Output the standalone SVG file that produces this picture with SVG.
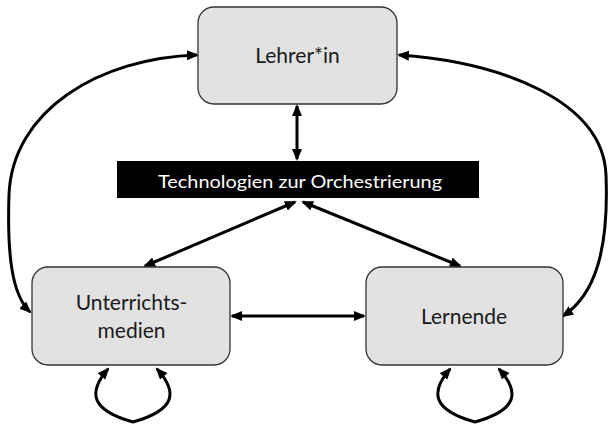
<svg xmlns="http://www.w3.org/2000/svg" width="609" height="426" viewBox="0 0 609 426">
<style>
.box{fill:#e2e2e2;stroke:#333;stroke-width:1.3}
.lbl{font-family:Lato,"Open Sans",sans-serif;font-size:21px;fill:#1a1a1a;text-anchor:middle}
.tech{font-family:Lato,"Open Sans",sans-serif;font-size:18px;fill:#fff;text-anchor:middle}
.con{fill:none;stroke:#000;stroke-width:3;marker-start:url(#ah);marker-end:url(#ah)}
</style>
<defs>
<marker id="ah" markerUnits="userSpaceOnUse" markerWidth="13" markerHeight="11" refX="10" refY="5" orient="auto-start-reverse" viewBox="0 0 13 11">
<path d="M0,0 L12,5 L0,10 z" fill="#000"/>
</marker>
</defs>
<rect width="609" height="426" fill="#fff"/>
<g id="connectors">
<path class="con" d="M297,106 L297,159"/>
<path class="con" d="M295,202 L145,266"/>
<path class="con" d="M303,202 L460,266"/>
<path class="con" d="M232,316 L364,316"/>
<path class="con" d="M197,55 C100,58 12,110 9,195 C7,255 12,295 30,312"/>
<path class="con" d="M399,55 C500,62 603,100 606,175 C609,250 595,295 563,316"/>
<path class="con" d="M108,369 C88,392 90,410 133,422 C176,410 178,392 157,369"/>
<path class="con" d="M450,369 C430,392 432,410 475,422 C518,410 520,392 499,369"/>
</g>
<g id="lehrer">
<rect class="box" x="198" y="7" width="199" height="97" rx="16"/>
<text class="lbl" x="297.5" y="63">Lehrer*in</text>
</g>
<g id="technologien">
<rect x="117" y="161" width="362" height="37" fill="#000"/>
<text class="tech" x="300" y="188" textLength="284" lengthAdjust="spacingAndGlyphs">Technologien zur Orchestrierung</text>
</g>
<g id="unterrichtsmedien">
<rect class="box" x="32" y="267" width="198" height="98" rx="16"/>
<text class="lbl" x="131.5" y="310">Unterrichts-</text>
<text class="lbl" x="131.5" y="338">medien</text>
</g>
<g id="lernende">
<rect class="box" x="366" y="267" width="197" height="98" rx="16"/>
<text class="lbl" x="464" y="324">Lernende</text>
</g>
</svg>
